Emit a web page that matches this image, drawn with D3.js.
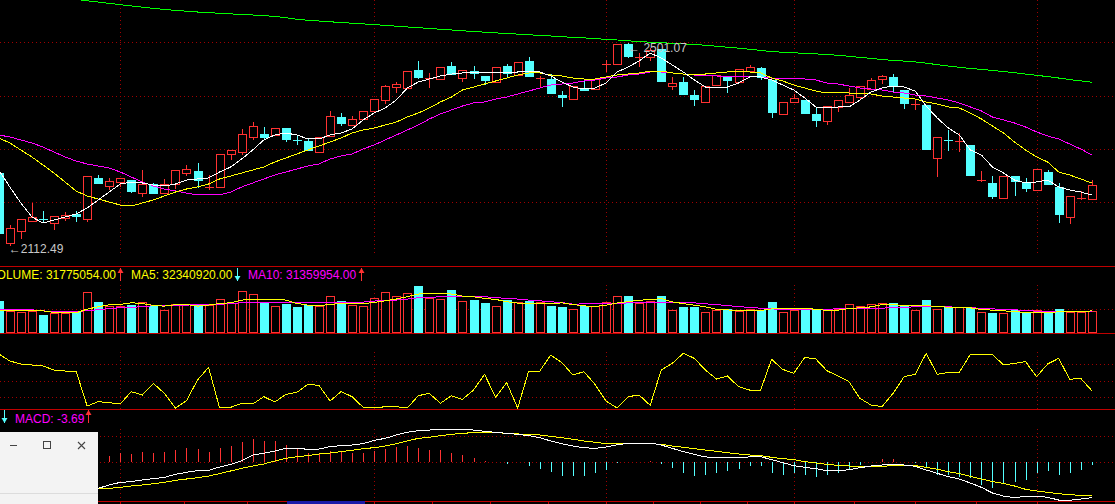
<!DOCTYPE html>
<html>
<head>
<meta charset="UTF-8">
<title>K-line</title>
<script src="https://d3js.org/d3.v7.min.js"></script>
<style>
  html, body { margin: 0; padding: 0; background: #000; overflow: hidden; }
  svg { display: block; }
  text { font-family: "Liberation Sans", Arial, sans-serif; font-size: 12px; }
</style>
</head>
<body>
<svg id="chart" width="1115" height="504"></svg>
<script>
// ---- data (one entry per trading day) ----
const days = d3.range(100);

const open = [2251.0,2116.3,2139.4,2158.7,2162.5,2154.8,2164.4,2172.1,2162.5,2241.4,
  2226.0,2233.7,2237.5,2212.5,2229.8,2212.5,2229.8,2251.0,2254.9,2222.1,
  2224.1,2287.6,2291.4,2320.3,2326.0,2324.1,2337.6,2315.4,2312.6,2291.4,
  2322.2,2358.7,2343.3,2354.9,2370.3,2391.4,2416.4,2414.5,2449.1,2430.9,
  2431.8,2456.8,2433.7,2447.2,2437.6,2426.1,2456.8,2439.5,2466.5,2430.9,
  2431.8,2401.0,2393.3,2414.5,2412.6,2459.7,2460.7,2499.2,2471.3,2474.1,
  2489.5,2418.4,2426.1,2401.0,2387.6,2420.3,2435.7,2426.1,2447.2,2453.0,
  2429.9,2364.5,2387.6,2391.4,2364.5,2351.0,2378.0,2387.6,2397.2,2412.6,
  2431.8,2435.7,2410.7,2380.9,2381.8,2279.9,2315.4,2309.7,2304.9,2235.6,
  2231.8,2202.9,2245.2,2231.8,2218.3,2252.9,2224.1,2166.4,2201.0,2201.0];

const high = [2252.9,2151.0,2162.5,2193.3,2177.9,2168.3,2176.0,2177.9,2245.2,2247.2,
  2241.4,2241.4,2237.5,2256.8,2231.8,2239.5,2256.8,2266.4,2270.2,2247.2,
  2287.6,2295.3,2335.7,2349.1,2339.5,2337.6,2337.6,2324.1,2318.3,2320.3,
  2370.3,2366.4,2360.6,2370.3,2393.3,2420.3,2426.1,2447.2,2466.5,2443.4,
  2454.9,2464.5,2449.1,2456.8,2437.6,2454.9,2460.7,2464.5,2474.1,2437.6,
  2441.4,2408.7,2418.4,2429.9,2431.8,2468.4,2499.2,2501.07,2481.8,2491.5,
  2489.5,2435.7,2435.7,2410.7,2418.4,2439.5,2435.7,2451.1,2458.8,2454.9,
  2429.9,2387.6,2403.0,2391.4,2378.0,2379.9,2391.4,2414.5,2418.4,2433.7,
  2439.5,2441.4,2410.7,2391.4,2381.8,2320.3,2333.7,2328.0,2304.9,2254.9,
  2245.2,2245.2,2245.2,2241.4,2258.7,2256.8,2231.8,2206.8,2216.4,2237.5];

const low = [2131.7,2112.49,2125.9,2158.7,2158.7,2143.3,2160.6,2158.7,2158.7,2231.8,
  2220.2,2226.0,2214.4,2206.8,2212.5,2212.5,2222.1,2247.2,2224.1,2220.2,
  2224.1,2277.9,2287.6,2316.4,2316.4,2324.1,2312.6,2306.8,2295.3,2291.4,
  2322.2,2343.3,2343.3,2354.9,2370.3,2385.7,2406.8,2414.5,2433.7,2416.4,
  2431.8,2441.4,2428.0,2433.7,2422.2,2426.1,2435.7,2439.5,2437.6,2416.4,
  2404.9,2379.9,2393.3,2410.7,2412.6,2447.2,2460.7,2474.1,2456.8,2468.4,
  2428.0,2412.6,2403.0,2381.8,2387.6,2420.3,2406.8,2426.1,2447.2,2431.8,
  2358.7,2364.5,2387.6,2366.4,2341.4,2345.3,2370.3,2387.6,2393.3,2412.6,
  2424.1,2408.7,2376.0,2374.1,2297.2,2245.2,2295.3,2293.3,2247.2,2235.6,
  2202.9,2202.9,2208.7,2216.4,2218.3,2229.8,2156.7,2154.8,2201.0,2201.0];

const close = [2135.6,2145.2,2162.5,2166.4,2160.6,2168.3,2170.2,2168.3,2245.2,2231.8,
  2235.6,2241.4,2216.4,2229.8,2212.5,2229.8,2256.8,2258.7,2237.5,2224.1,
  2287.6,2295.3,2326.0,2341.4,2320.3,2337.6,2316.4,2313.5,2295.3,2320.3,
  2360.6,2347.2,2354.9,2370.3,2393.3,2418.4,2422.2,2447.2,2435.7,2432.8,
  2454.9,2441.4,2449.1,2443.4,2429.9,2454.9,2443.4,2464.5,2437.6,2432.8,
  2404.9,2397.2,2418.4,2410.7,2431.8,2461.6,2499.2,2476.1,2473.2,2487.6,
  2428.0,2424.1,2403.0,2393.3,2418.4,2439.5,2429.9,2451.1,2454.9,2435.7,
  2368.3,2387.6,2395.3,2366.4,2353.0,2379.9,2391.4,2401.0,2418.4,2429.9,
  2437.6,2418.4,2385.7,2382.8,2297.2,2320.3,2313.5,2311.6,2247.2,2236.6,
  2206.8,2245.2,2235.6,2222.1,2258.7,2229.8,2172.1,2206.8,2202.9,2227.9];

// price moving averages as shown (white, yellow, magenta, green)
const ma5 = [2256.8,2224.1,2193.3,2166.4,2154.8,2160.6,2166.4,2172.1,2183.7,2199.1,
  2214.4,2229.8,2233.7,2231.8,2227.9,2226.0,2229.8,2237.5,2239.5,2241.4,
  2252.9,2262.5,2277.9,2295.3,2314.5,2324.1,2328.0,2324.1,2316.4,2316.4,
  2324.1,2328.0,2335.7,2353.0,2366.4,2376.0,2391.4,2414.5,2426.1,2431.8,
  2437.6,2441.4,2443.4,2443.4,2443.4,2443.4,2443.4,2445.3,2447.2,2445.3,
  2437.6,2426.1,2416.4,2412.6,2414.5,2424.1,2445.3,2454.9,2466.5,2481.8,
  2472.2,2458.8,2445.3,2429.9,2416.4,2416.4,2416.4,2424.1,2435.7,2435.7,
  2429.9,2420.3,2410.7,2395.3,2378.0,2376.0,2378.0,2378.0,2391.4,2406.8,
  2414.5,2418.4,2416.4,2408.7,2379.9,2356.8,2337.6,2324.1,2295.3,2285.6,
  2262.5,2251.0,2237.5,2231.8,2233.7,2237.5,2224.1,2218.3,2214.4,2208.7];

const ma10 = [2318.3,2308.7,2295.3,2281.8,2266.4,2251.0,2233.7,2216.4,2206.8,2201.0,
  2195.2,2189.4,2187.5,2193.3,2199.1,2206.8,2214.4,2220.2,2224.1,2229.8,
  2239.5,2245.2,2251.0,2256.8,2262.5,2272.2,2279.9,2287.6,2295.3,2303.0,
  2310.6,2318.3,2328.0,2333.7,2337.6,2343.3,2349.1,2358.7,2366.4,2376.0,
  2387.6,2397.2,2410.7,2416.4,2422.2,2428.0,2433.7,2439.5,2443.4,2443.4,
  2439.5,2437.6,2433.7,2431.8,2431.8,2435.7,2439.5,2441.4,2443.4,2447.2,
  2447.2,2443.4,2441.4,2439.5,2441.4,2443.4,2445.3,2445.3,2445.3,2443.4,
  2433.7,2428.0,2420.3,2414.5,2408.7,2404.9,2404.9,2404.9,2403.0,2403.0,
  2399.1,2397.2,2395.3,2393.3,2387.6,2383.7,2378.0,2376.0,2366.4,2354.9,
  2341.4,2328.0,2310.6,2295.3,2281.8,2272.2,2252.9,2247.2,2239.5,2231.8];

const ma20 = [2324.1,2320.3,2314.5,2308.7,2301.0,2291.4,2281.8,2274.1,2268.3,2264.5,
  2260.6,2252.9,2243.3,2233.7,2226.0,2220.2,2216.4,2212.5,2208.7,2208.7,
  2208.7,2214.4,2224.1,2231.8,2239.5,2247.2,2252.9,2258.7,2264.5,2268.3,
  2277.9,2283.7,2287.6,2297.2,2304.9,2314.5,2324.1,2333.7,2343.3,2354.9,
  2364.5,2372.2,2379.9,2385.7,2387.6,2393.3,2397.2,2403.0,2408.7,2414.5,
  2420.3,2422.2,2424.1,2428.0,2429.9,2433.7,2435.7,2439.5,2441.4,2445.3,
  2445.3,2443.4,2441.4,2439.5,2437.6,2437.6,2435.7,2435.7,2435.7,2435.7,
  2433.7,2433.7,2433.7,2431.8,2429.9,2424.1,2422.2,2418.4,2414.5,2412.6,
  2410.7,2406.8,2404.9,2401.0,2399.1,2395.3,2391.4,2385.7,2378.0,2370.3,
  2358.7,2353.0,2347.2,2339.5,2329.9,2322.2,2316.4,2306.8,2297.2,2285.6];

const ma60 = [null,null,null,null,null,null,null,2584.8,2582.3,2580.0,
  2577.3,2574.8,2572.3,2570.0,2567.8,2565.7,2563.8,2562.3,2560.7,2559.6,
  2558.2,2557.1,2555.9,2555.0,2553.6,2552.3,2549.6,2546.7,2544.7,2543.4,
  2541.9,2540.5,2539.2,2537.8,2536.5,2534.9,2533.4,2531.9,2530.5,2529.0,
  2527.6,2526.1,2524.6,2523.2,2521.9,2520.5,2519.4,2518.2,2516.9,2515.7,
  2514.5,2513.2,2512.0,2510.9,2509.5,2508.2,2506.9,2505.3,2503.8,2502.6,
  2501.7,2500.5,2499.4,2498.2,2496.8,2494.9,2493.0,2491.1,2489.0,2486.8,
  2484.5,2483.4,2482.2,2481.1,2480.1,2479.0,2477.4,2475.5,2473.4,2471.5,
  2469.3,2467.6,2466.3,2464.7,2462.2,2459.5,2456.8,2454.3,2452.2,2450.3,
  2448.2,2446.1,2443.9,2441.4,2438.9,2436.4,2433.7,2430.7,2428.2,2425.5];

// volume, millions of shares
const volume = [46.6,31.9,30.4,31.9,26.0,29.4,29.4,30.9,59.8,45.1,
  39.2,39.2,40.7,44.6,39.2,33.3,41.7,41.7,42.1,40.7,
  49.0,43.1,61.3,56.4,44.6,38.7,42.6,37.7,40.2,39.2,
  53.9,46.6,40.7,39.2,50.5,59.3,53.9,57.8,68.6,51.5,
  49.5,62.7,46.6,48.0,43.6,39.2,47.5,45.1,46.6,45.1,
  39.5,37.6,35.7,39.1,39.1,45.8,53.6,53.6,44.4,46.3,
  53.6,33.3,37.6,37.6,30.4,33.3,34.3,31.8,35.7,33.3,
  44.9,30.4,33.3,34.3,33.3,33.3,34.3,42.0,39.1,42.0,
  43.4,43.9,40.0,33.3,47.8,34.7,37.2,38.1,36.7,30.4,
  29.4,29.4,33.3,30.9,33.3,30.9,34.7,30.9,30.9,31.775054];

const volMa5 = [33.3,33.3,33.3,32.8,32.3,29.9,29.4,29.4,34.8,38.2,
  41.2,41.7,44.1,43.1,40.2,39.2,41.2,41.7,39.2,40.7,
  43.1,44.1,48.0,49.5,49.5,49.5,48.0,43.1,40.7,39.7,
  41.7,43.1,42.6,42.6,44.6,47.0,49.5,52.9,56.8,57.8,
  57.8,56.8,53.9,52.9,50.5,49.0,45.6,43.6,43.1,43.1,
  43.1,43.9,41.5,39.6,38.6,40.5,43.9,45.8,47.8,48.7,
  50.2,45.4,42.9,40.5,38.1,34.7,33.8,32.3,32.3,32.8,
  35.2,35.7,35.7,35.7,34.7,32.8,33.3,35.7,36.7,38.1,
  41.5,41.5,40.0,40.0,40.0,38.6,37.6,37.2,36.7,34.3,
  33.3,32.3,31.4,29.9,29.9,29.9,30.9,30.9,30.9,32.34092];

const volMa10 = [34.3,34.3,34.3,33.8,32.3,30.9,30.9,30.9,32.8,33.8,
  35.8,36.8,37.2,38.7,39.7,39.7,40.7,40.7,41.2,41.7,
  41.7,43.1,44.1,44.1,44.1,44.1,44.6,44.6,44.6,45.1,
  45.1,45.1,45.1,45.1,46.6,47.5,48.0,49.5,51.5,51.9,
  52.9,53.9,53.9,53.9,52.9,51.5,50.5,49.5,48.0,47.0,
  45.5,44.5,42.0,42.5,42.9,42.9,42.9,43.9,44.4,44.4,
  44.4,43.9,43.9,43.9,42.5,41.5,40.0,38.6,37.2,36.2,
  35.2,34.3,34.3,34.3,34.3,34.7,35.2,35.7,35.7,35.7,
  36.2,37.2,37.6,38.1,38.1,38.1,38.1,37.6,37.2,35.7,
  35.2,34.3,33.8,32.8,31.8,31.4,31.4,31.4,31.4,31.359954];

// oscillator (0-100)
const osc = [98.2,85.4,80.0,78.2,76.3,69.1,67.2,67.2,3.6,11.5,
  9.7,7.3,29.7,23.6,44.8,26.6,0,13.3,50.9,73.9,
  0,1.2,8.5,7.3,20.6,10.9,24.8,28.5,43.0,41.2,
  12.7,29.7,20.6,1.2,0,2.4,2.4,0,22.4,26.6,
  8.5,22.4,15.7,32.7,61.2,19.4,46.0,0,67.2,67.2,
  96.3,82.4,60.0,66.0,43.0,12.7,0,20.6,23.6,4.8,
  69.1,81.2,99.4,90.3,69.1,52.7,58.2,38.8,32.7,32.7,
  88.5,70.3,63.0,92.1,89.1,67.9,58.2,47.9,17.6,5.4,
  2.4,26.6,56.9,61.2,99.4,61.2,64.8,64.8,97.5,97.5,
  97.5,78.2,81.2,84.2,56.9,80.0,90.3,52.1,53.9,31.5];

// MACD (early days are hidden behind the window)
const dif = [null,null,null,null,null,null,null,null,null,-36.1,
  -31.5,-27.9,-26.9,-24.6,-22.8,-21.0,-16.9,-14.1,-11.9,-11.4,
  -6.9,-3.2,1.8,9.6,11.9,15.1,18.7,18.7,17.4,17.8,
  21.0,22.4,23.3,25.1,29.7,32.4,37.0,40.7,42.9,43.8,
  44.3,44.8,44.8,43.8,42.0,40.7,39.3,37.9,36.1,33.3,
  28.8,25.1,21.9,19.6,18.7,20.5,23.7,25.6,26.0,26.0,
  23.3,18.7,14.2,10.5,6.9,6.4,6.4,6.4,6.9,7.3,
  3.2,-0.9,-5.0,-7.3,-9.1,-11.9,-12.3,-10.5,-7.8,-5.5,
  -4.1,-3.2,-4.1,-5.9,-10.9,-15.5,-20.1,-23.3,-28.8,-34.7,
  -42.5,-46.6,-48.9,-47.0,-46.6,-48.4,-52.1,-52.5,-50.7,-48.9];

const dea = [null,null,null,null,null,null,null,null,null,-37.0,
  -36.1,-34.7,-32.9,-31.5,-29.7,-27.9,-25.1,-23.3,-21.5,-19.2,
  -16.0,-12.3,-8.7,-5.5,-2.7,1.4,5.0,7.3,8.7,11.0,
  12.3,14.2,16.0,18.3,19.6,21.9,25.1,28.8,32.4,33.8,
  36.1,37.9,39.3,40.2,40.7,40.2,39.3,38.4,37.9,37.0,
  35.2,33.3,31.1,28.8,27.0,25.1,24.7,24.7,25.1,25.1,
  24.2,21.9,20.1,18.3,16.4,14.6,12.8,11.0,9.6,8.7,
  6.4,4.6,3.2,0.5,-1.4,-3.2,-4.6,-5.5,-6.4,-6.4,
  -5.9,-5.0,-5.0,-5.0,-7.3,-10.0,-13.2,-16.0,-19.6,-23.3,
  -26.9,-29.2,-32.9,-37.4,-39.7,-41.6,-43.4,-44.8,-45.7,-46.6];

const macd = [null,null,null,null,null,null,null,null,null,null,
  7.8,12.3,11.0,13.7,12.3,13.7,16.9,19.2,17.8,13.7,
  19.2,21.9,27.4,31.5,29.2,29.2,23.7,19.2,12.3,12.3,
  14.6,14.6,12.3,12.3,15.5,18.3,20.1,22.4,19.2,16.9,
  16.9,12.3,10.0,5.5,0.9,0.3,-2.7,-0.5,-5.0,-9.1,
  -14.2,-19.6,-18.7,-19.6,-15.1,-10.5,-1.4,-0.3,0.2,1.8,
  -2.7,-8.2,-15.1,-19.6,-17.4,-15.1,-12.8,-9.1,-5.9,-5.9,
  -15.1,-17.4,-15.1,-18.3,-20.5,-17.4,-15.1,-9.1,-3.7,-0.5,
  4.6,4.6,0.5,-1.4,-8.2,-17.4,-18.3,-21.0,-21.9,-31.0,
  -35.6,-28.8,-27.4,-24.2,-15.1,-12.8,-17.4,-15.1,-10.5,-3.69];

// grid / tick values
const monthStarts = [11, 34, 55, 72, 94];
const priceGrid = [2503.0, 2399.1, 2297.2, 2195.2];
const volGrid = [34.6];
const oscGrid = [20, 50, 80];
const macdGrid = [0, 35.6];

// ---- layout ----
const W = 1115, H = 504;
const RED = "#ff3232", CYAN = "#54ffff", SEP = "#c00000", GRID = "#a00000";
const crisp = v => Math.round(v) + 0.5;

const x = d3.scaleLinear().domain([0, 99]).range([-1.2, 1091.8]);
const yPrice = d3.scaleLinear().domain([2112.49, 2501.07]).range([245, 43]);
const yVol = d3.scaleLinear().domain([0, 97]).range([333, 266.5]);
const yOsc = d3.scaleLinear().domain([0, 100]).range([408, 353]);
const yMacd = d3.scaleLinear().domain([-55, 55]).range([462 + 55 * 0.73, 462 - 55 * 0.73]);

const svg = d3.select("#chart");
svg.append("rect").attr("width", W).attr("height", H).attr("fill", "#000");
const defs = svg.append("defs");

function panel(id, y0, y1) {
  defs.append("clipPath").attr("id", id).append("rect")
    .attr("x", 0).attr("y", y0).attr("width", W).attr("height", y1 - y0);
  return svg.append("g").attr("clip-path", `url(#${id})`);
}
const gMain = panel("cMain", 0, 266);
const gVol = panel("cVol", 267, 333);
const gOsc = panel("cOsc", 334, 409);
const gMacd = panel("cMacd", 410, 501);

function grid(g, vals, scale, vTop, vBottom) {
  g.selectAll("line.h").data(vals).join("line").attr("class", "h")
    .attr("x1", 0).attr("x2", W)
    .attr("y1", d => crisp(scale(d))).attr("y2", d => crisp(scale(d)))
    .attr("stroke", GRID).attr("stroke-dasharray", "1,3");
  g.selectAll("line.v").data(monthStarts).join("line").attr("class", "v")
    .attr("x1", d => crisp(x(d))).attr("x2", d => crisp(x(d)))
    .attr("y1", vTop).attr("y2", vBottom)
    .attr("stroke", GRID).attr("stroke-dasharray", "1,3");
}
grid(gMain, priceGrid, yPrice, 0, 253);
grid(gVol, volGrid, yVol, 285, 333);
grid(gOsc, oscGrid, yOsc, 352, 409);
grid(gMacd, macdGrid, yMacd, 429, 501);

// ---- candles ----
days.forEach(i => {
  const cx = Math.round(x(i));
  const up = close[i] >= open[i];
  const col = up ? RED : CYAN;
  gMain.append("line")
    .attr("x1", cx + 0.5).attr("x2", cx + 0.5)
    .attr("y1", Math.round(yPrice(high[i]))).attr("y2", Math.round(yPrice(low[i])) + 1)
    .attr("stroke", col);
  const yt = Math.round(yPrice(Math.max(open[i], close[i])));
  const yb = Math.round(yPrice(Math.min(open[i], close[i])));
  if (yb - yt < 2) {
    gMain.append("line").attr("x1", cx - 4).attr("x2", cx + 5)
      .attr("y1", yt + 0.5).attr("y2", yt + 0.5).attr("stroke", col);
  } else if (up) {
    gMain.append("rect").attr("x", cx - 3.5).attr("y", yt + 0.5)
      .attr("width", 8).attr("height", yb - yt)
      .attr("fill", "#000").attr("stroke", RED);
  } else {
    gMain.append("rect").attr("x", cx - 4).attr("y", yt)
      .attr("width", 9).attr("height", yb - yt + 1).attr("fill", CYAN);
  }
});

function drawLine(g, arr, scale, color) {
  const line = d3.line()
    .defined(d => d[1] != null)
    .x(d => x(d[0])).y(d => scale(d[1]));
  g.append("path").datum(arr.map((v, i) => [i, v]))
    .attr("d", line).attr("fill", "none")
    .attr("stroke", color).attr("stroke-width", 1)
    .attr("shape-rendering", "crispEdges");
}
drawLine(gMain, ma60, yPrice, "#00ff00");
drawLine(gMain, ma20, yPrice, "#ff00ff");
drawLine(gMain, ma10, yPrice, "#ffff00");
drawLine(gMain, ma5, yPrice, "#ffffff");

// high / low marks
const lo = d3.minIndex(low), hi = d3.maxIndex(high);
gMain.append("text").attr("x", x(lo) - 1).attr("y", yPrice(low[lo]) + 8)
  .attr("fill", "#c8c8c8").text("\u2190" + low[lo].toFixed(2));
gMain.append("text").attr("x", x(hi)).attr("y", yPrice(high[hi]) + 9)
  .attr("fill", "#c8c8c8").text("\u2190 " + high[hi].toFixed(2));

// ---- volume ----
days.forEach(i => {
  const cx = Math.round(x(i));
  const top = Math.round(yVol(volume[i]));
  if (close[i] >= open[i]) {
    gVol.append("rect").attr("x", cx - 3.5).attr("y", top + 0.5)
      .attr("width", 8).attr("height", 332 - top)
      .attr("fill", "#000").attr("stroke", RED);
  } else {
    gVol.append("rect").attr("x", cx - 4).attr("y", top)
      .attr("width", 9).attr("height", 333 - top).attr("fill", CYAN);
  }
});
drawLine(gVol, volMa10, yVol, "#ff00ff");
drawLine(gVol, volMa5, yVol, "#ffff00");

// ---- oscillator ----
drawLine(gOsc, osc, yOsc, "#ffff00");

// ---- MACD ----
days.forEach(i => {
  if (macd[i] == null) return;
  const cx = crisp(x(i));
  gMacd.append("line").attr("x1", cx).attr("x2", cx)
    .attr("y1", yMacd(0)).attr("y2", yMacd(macd[i]))
    .attr("stroke", macd[i] >= 0 ? RED : CYAN)
    .attr("shape-rendering", "crispEdges");
});
drawLine(gMacd, dea, yMacd, "#ffff00");
drawLine(gMacd, dif, yMacd, "#ffffff");

// ---- separators and bottom ticks ----
[266.5, 333.5, 409.5, 501.5].forEach(y => {
  svg.append("line").attr("x1", 0).attr("x2", W).attr("y1", y).attr("y2", y).attr("stroke", SEP);
});
const ticks = [];
for (let k = 0; k < monthStarts.length - 1; k++) {
  const a = monthStarts[k], b = monthStarts[k + 1];
  for (let q = 0; q < 4; q++) ticks.push(a + q * (b - a) / 4);
}
ticks.push(monthStarts[monthStarts.length - 1]);
svg.selectAll("line.tick").data(ticks).join("line").attr("class", "tick")
  .attr("x1", d => crisp(x(d))).attr("x2", d => crisp(x(d)))
  .attr("y1", 502).attr("y2", 504).attr("stroke", SEP);
svg.append("rect").attr("x", 287).attr("y", 501).attr("width", 78).attr("height", 3).attr("fill", "#1a1aa8");

// ---- headers ----
function arrow(x0, yTop, yBot, up, color) {
  const xc = x0 + 0.5;
  svg.append("line").attr("x1", xc).attr("x2", xc).attr("y1", yTop).attr("y2", yBot).attr("stroke", color);
  const tip = up ? yTop : yBot, base = up ? yTop + 5 : yBot - 5;
  svg.append("path").attr("d", `M${xc - 3},${base}L${xc},${tip}L${xc + 3},${base}Z`).attr("fill", color);
}
const last = days.length - 1;
svg.append("text").attr("x", 116).attr("y", 278.5).attr("text-anchor", "end").attr("fill", "#ffff00")
  .text("VOLUME: " + (volume[last] * 1e6).toFixed(2));
arrow(120, 268, 281, true, RED);
svg.append("text").attr("x", 131).attr("y", 278.5).attr("fill", "#ffff00")
  .text("MA5: " + (volMa5[last] * 1e6).toFixed(2));
arrow(237, 268, 281, false, CYAN);
svg.append("text").attr("x", 248).attr("y", 278.5).attr("fill", "#ff00ff")
  .text("MA10: " + (volMa10[last] * 1e6).toFixed(2));
arrow(361, 268, 281, true, RED);

arrow(4, 410, 423, false, CYAN);
svg.append("text").attr("x", 15).attr("y", 422.5).attr("fill", "#ff00ff")
  .text("MACD: " + macd[last].toFixed(2));
arrow(88, 410, 423, true, RED);

// ---- small window overlay ----
const win = svg.append("g");
win.append("rect").attr("x", 0).attr("y", 432).attr("width", 98).attr("height", 72).attr("fill", "#f3f3f3");
win.append("line").attr("x1", 0).attr("x2", 98).attr("y1", 493.5).attr("y2", 493.5).attr("stroke", "#dcdcdc");
win.append("line").attr("x1", 10).attr("x2", 17).attr("y1", 445.5).attr("y2", 445.5).attr("stroke", "#444");
win.append("rect").attr("x", 43.5).attr("y", 441.5).attr("width", 7).attr("height", 7)
  .attr("fill", "none").attr("stroke", "#444");
win.append("path").attr("d", "M78,442L85,449M85,442L78,449").attr("stroke", "#444").attr("stroke-width", 1.1);
</script>
</body>
</html>
